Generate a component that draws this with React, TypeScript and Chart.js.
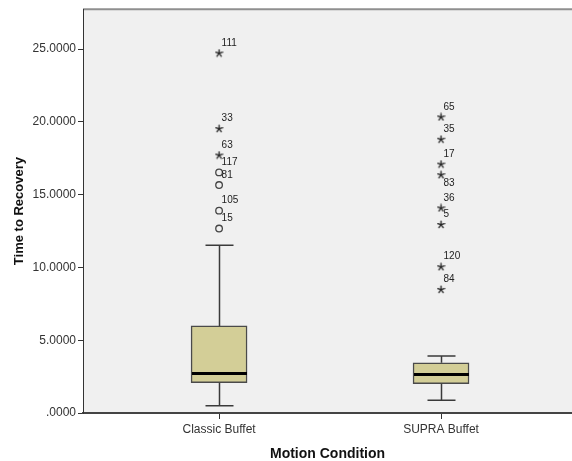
import React, { useEffect, useRef } from 'react';
import { Chart, registerables } from 'chart.js';

Chart.register(...registerables);

// ---- data ----
const categories = ['Classic Buffet', 'SUPRA Buffet'];
const q1 = [2.08, 2.01];
const medians = [2.72, 2.64];
const q3 = [5.98, 3.45];
const whiskerLow = [0.5, 0.88];
const whiskerHigh = [11.53, 3.92];

const classicStarValues = [24.73, 19.54, 17.72];
const classicStarIds = ['111', '33', '63'];
const classicCircleValues = [16.53, 15.66, 13.9, 12.67];
const classicCircleIds = ['117', '81', '105', '15'];
const supraStarValues = [20.34, 18.81, 17.1, 16.37, 14.09, 12.95, 10.05, 8.49];
const supraStarIds = ['65', '35', '17', '83', '36', '5', '120', '84'];
const labelsBelow = ['83'];

const yTickValues = [0, 5, 10, 15, 20, 25];
const yMax = 27.74;

const FONT = '"Liberation Sans", Arial, sans-serif';

function makeStar(): HTMLCanvasElement {
  const c = document.createElement('canvas');
  c.width = 9;
  c.height = 9;
  const g = c.getContext('2d')!;
  g.strokeStyle = '#222';
  g.lineWidth = 1.3;
  g.lineCap = 'round';
  const cx = 4.5;
  const cy = 4.7;
  const r = 3.6;
  g.beginPath();
  for (let k = 0; k < 5; k++) {
    const a = -Math.PI / 2 + (k * 2 * Math.PI) / 5;
    g.moveTo(cx, cy);
    g.lineTo(cx + r * Math.cos(a), cy + r * Math.sin(a));
  }
  g.stroke();
  return c;
}

const bgPlugin = {
  id: 'bgPlugin',
  beforeDraw(chart: any) {
    const { ctx, chartArea: a } = chart;
    ctx.save();
    ctx.fillStyle = '#F0F0F0';
    ctx.fillRect(a.left, a.top, a.right - a.left, a.bottom - a.top);
    ctx.strokeStyle = '#8f8f8f';
    ctx.lineWidth = 2;
    ctx.beginPath();
    ctx.moveTo(a.left, a.top);
    ctx.lineTo(a.right, a.top);
    ctx.stroke();
    ctx.restore();
  },
};

const boxPlugin = {
  id: 'boxPlugin',
  afterDatasetsDraw(chart: any) {
    const { ctx } = chart;
    const xs = chart.scales.x;
    const ys = chart.scales.y;
    ctx.save();
    categories.forEach((_, i) => {
      const cx = Math.round(xs.getPixelForValue(i)) + 0.5;
      const capHalf = 14;
      const boxHalf = 27.5;
      ctx.strokeStyle = '#3a3a3a';
      ctx.lineWidth = 1.5;
      ctx.beginPath();
      ctx.moveTo(cx, ys.getPixelForValue(q3[i]));
      ctx.lineTo(cx, ys.getPixelForValue(whiskerHigh[i]));
      ctx.moveTo(cx - capHalf, ys.getPixelForValue(whiskerHigh[i]));
      ctx.lineTo(cx + capHalf, ys.getPixelForValue(whiskerHigh[i]));
      ctx.moveTo(cx, ys.getPixelForValue(q1[i]));
      ctx.lineTo(cx, ys.getPixelForValue(whiskerLow[i]));
      ctx.moveTo(cx - capHalf, ys.getPixelForValue(whiskerLow[i]));
      ctx.lineTo(cx + capHalf, ys.getPixelForValue(whiskerLow[i]));
      ctx.stroke();
      ctx.strokeStyle = '#000';
      ctx.lineWidth = 3;
      ctx.beginPath();
      ctx.moveTo(cx - boxHalf, ys.getPixelForValue(medians[i]));
      ctx.lineTo(cx + boxHalf, ys.getPixelForValue(medians[i]));
      ctx.stroke();
    });
    ctx.restore();
  },
};

const labelPlugin = {
  id: 'labelPlugin',
  afterDatasetsDraw(chart: any) {
    const { ctx } = chart;
    ctx.save();
    ctx.font = `10px ${FONT}`;
    ctx.fillStyle = '#222';
    ctx.textAlign = 'left';
    ctx.textBaseline = 'middle';
    chart.data.datasets.forEach((ds: any, di: number) => {
      if (!ds.ids) return;
      const meta = chart.getDatasetMeta(di);
      meta.data.forEach((el: any, j: number) => {
        const id = ds.ids[j];
        const dy = labelsBelow.includes(id) ? 9 : -10;
        ctx.fillText(id, el.x + 2.5, el.y + dy);
      });
    });
    ctx.restore();
  },
};

export default function App() {
  const ref = useRef<HTMLCanvasElement>(null);

  useEffect(() => {
    if (!ref.current) return;
    const star = makeStar();
    const chart = new Chart(ref.current, {
      type: 'bar',
      data: {
        datasets: [
          {
            type: 'bar',
            data: categories.map((_, i) => ({ x: i, y: [q1[i], q3[i]] })) as any,
            backgroundColor: '#D3CE97',
            borderColor: '#4a4a4a',
            borderWidth: 1.5,
            borderSkipped: false,
            barThickness: 56,
          } as any,
          {
            type: 'scatter',
            data: classicStarValues.map((v) => ({ x: 0, y: v })),
            ids: classicStarIds,
            pointStyle: star,
            pointRadius: 4,
          } as any,
          {
            type: 'scatter',
            data: classicCircleValues.map((v) => ({ x: 0, y: v })),
            ids: classicCircleIds,
            pointStyle: 'circle',
            pointRadius: 3.3,
            borderColor: '#444',
            borderWidth: 1.3,
            backgroundColor: 'transparent',
          } as any,
          {
            type: 'scatter',
            data: supraStarValues.map((v) => ({ x: 1, y: v })),
            ids: supraStarIds,
            pointStyle: star,
            pointRadius: 4,
          } as any,
        ],
      },
      options: {
        animation: false,
        responsive: false,
        maintainAspectRatio: false,
        layout: { autoPadding: false, padding: { top: 8, left: 0, right: 0, bottom: 0 } },
        plugins: {
          legend: { display: false },
          tooltip: { enabled: false },
        },
        scales: {
          x: {
            type: 'linear',
            min: -0.613,
            max: 1.59,
            offset: false,
            afterBuildTicks: (s: any) => {
              s.ticks = categories.map((_, i) => ({ value: i }));
            },
            afterFit: (s: any) => {
              s.height = 48;
            },
            ticks: {
              autoSkip: false,
              maxRotation: 0,
              padding: 3,
              color: '#333',
              font: { family: FONT, size: 12 },
              callback: (v: any) => categories[v as number] ?? '',
            },
            grid: {
              offset: false,
              drawOnChartArea: false,
              drawTicks: true,
              tickLength: 6,
              color: '#333',
            },
            border: { display: true, color: '#444', width: 2 },
            title: {
              display: true,
              text: 'Motion Condition',
              color: '#111',
              font: { family: FONT, size: 14, weight: 'bold' },
              padding: { top: 0, bottom: -2 },
            },
          },
          y: {
            type: 'linear',
            min: 0,
            max: yMax,
            afterBuildTicks: (s: any) => {
              s.ticks = yTickValues.map((v) => ({ value: v }));
            },
            afterFit: (s: any) => {
              s.width = 83;
            },
            ticks: {
              padding: 2,
              color: '#333',
              font: { family: FONT, size: 12 },
              callback: (v: any) => Number(v).toFixed(4).replace(/^0\./, '.'),
            },
            grid: {
              drawOnChartArea: false,
              drawTicks: true,
              tickLength: 5,
              color: '#333',
            },
            border: { display: true, color: '#333', width: 1 },
            title: {
              display: true,
              text: 'Time to Recovery',
              color: '#111',
              font: { family: FONT, size: 13, weight: 'bold' },
              padding: { top: 12, bottom: 0 },
            },
          },
        },
      } as any,
      plugins: [bgPlugin, boxPlugin, labelPlugin],
    });
    return () => chart.destroy();
  }, []);

  return (
    <div style={{ position: 'fixed', left: 0, top: 0, width: 572, height: 461, background: '#fff' }}>
      <canvas ref={ref} width={572} height={461} style={{ display: 'block' }} />
    </div>
  );
}
